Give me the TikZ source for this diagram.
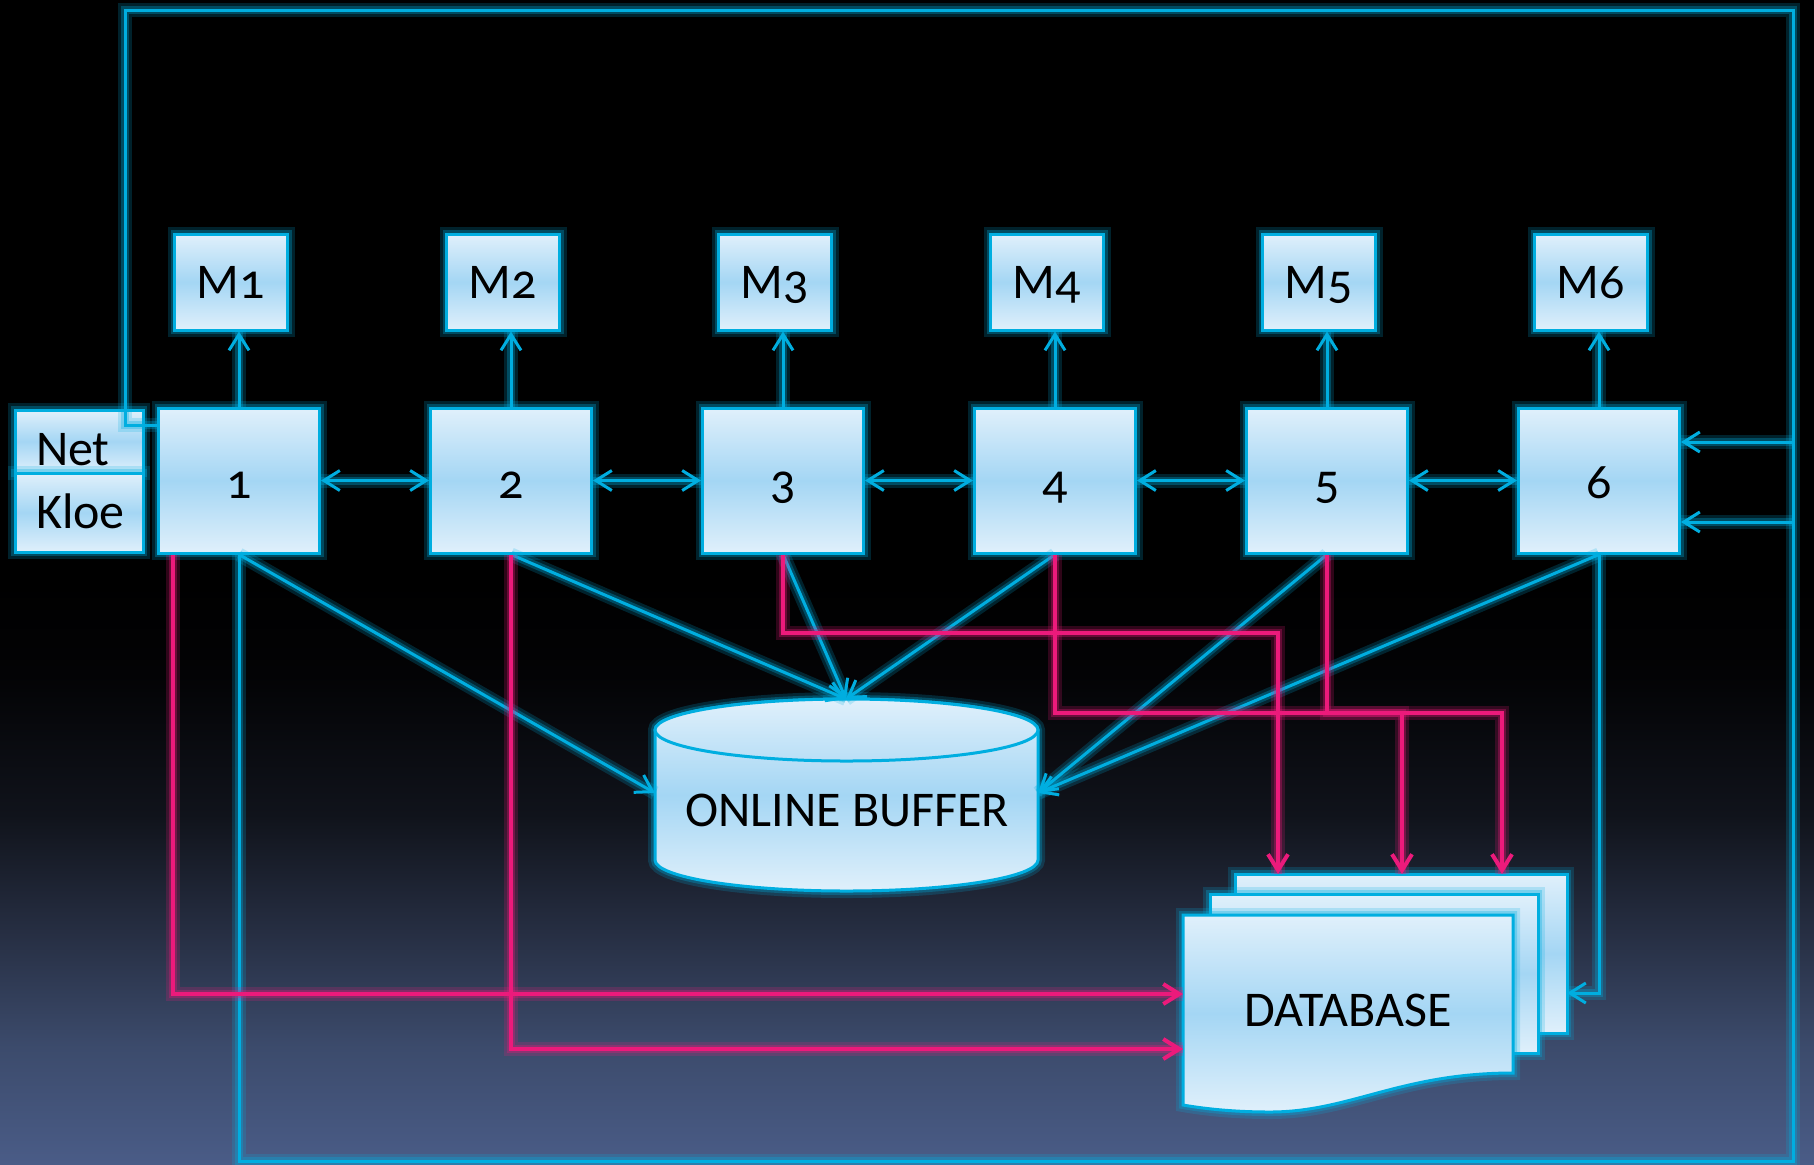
\documentclass[tikz,border=0pt]{standalone}
\usepackage{fontspec}
\setmainfont{Carlito}[Numbers=OldStyle]
\usetikzlibrary{arrows.meta,calc}

\definecolor{linec}{RGB}{0,174,224}
\definecolor{pinkc}{RGB}{236,26,123}
\definecolor{boxtop}{RGB}{224,240,251}
\definecolor{boxmid}{RGB}{164,214,244}
\definecolor{bga}{RGB}{74,92,135}
\definecolor{bgb}{RGB}{60,75,108}
\definecolor{bgc}{RGB}{38,46,66}
\definecolor{bgd}{RGB}{16,19,27}
\definecolor{bge}{RGB}{3,3,5}

% backdrop: black upper half fading to slate blue at the bottom
\pgfdeclareverticalshading{backdrop}{100bp}{%
  color(0bp)=(bga); color(25bp)=(bga); color(30bp)=(bgb); color(35bp)=(bgc);
  color(40bp)=(bgd); color(46bp)=(bge); color(50bp)=(black); color(100bp)=(black)}

% text set on a baseline lowered by #1 below the node centre
\newcommand{\lowered}[2]{\raisebox{-#1}[0pt][0pt]{#2}}

\begin{document}
\begin{tikzpicture}[x=0.5pt,y=-0.5pt,
  font=\fontsize{25}{29}\selectfont,
  glow/.style={preaction={draw=linec,line width=7pt,opacity=0.2,-},
               preaction={draw=linec,line width=4pt,opacity=0.3,-}},
  pglow/.style={preaction={draw=pinkc,line width=7pt,opacity=0.2,-},
                preaction={draw=pinkc,line width=4pt,opacity=0.3,-}},
  box/.style={rectangle, draw=linec, line width=1.5pt, glow,
              top color=boxtop, bottom color=boxtop, middle color=boxmid,
              inner sep=0pt, text=black},
  stepbox/.style={box, minimum width=80.5pt, minimum height=72.5pt},
  mbox/.style={box, minimum width=56.5pt, minimum height=48pt},
  sidebox/.style={box, minimum width=64pt, text width=43pt, inner xsep=10.5pt, align=left},
  sheet/.style={draw=linec, line width=1.5pt, glow,
                top color=boxtop, bottom color=boxtop, middle color=boxmid},
  cyanline/.style={draw=linec, line width=1.5pt, glow},
  pinkline/.style={draw=pinkc, line width=2pt, pglow},
  tip/.style={-{Straight Barb[length=8pt,width=10pt]}},
  dtip/.style={{Straight Barb[length=8pt,width=10pt]}-{Straight Barb[length=8pt,width=10pt]}}
]
\useasboundingbox (0,0) rectangle (1814,1164);
\shade[shading=backdrop] (0,0) rectangle (1814,1164);

% processing stages and their monitors
\foreach \i in {1,...,6}{
  \node[stepbox] (n\i) at ({239+272*(\i-1)},480.5) {\lowered{8.75pt}{\i}};
  \node[mbox] (m\i) at ({231+272*(\i-1)},282) {\lowered{8pt}{M\i}};
}
\node[sidebox, minimum height=31.5pt] (net) at (79,441.5) {\lowered{11.75pt}{Net}};
\node[sidebox, minimum height=39.5pt] (kloe) at (79,512.5) {\lowered{7.75pt}{Kloe}};

% online buffer cylinder
\path[sheet] (655,730) -- (655,860)
  arc[start angle=180, end angle=0, x radius=191.5, y radius=31]
  -- (1038,730)
  arc[start angle=0, end angle=-180, x radius=191.5, y radius=31] -- cycle;
\path[draw=linec, line width=1.5pt, top color=boxtop, bottom color=boxmid!65!boxtop]
  (846.5,730) ellipse [x radius=191.5, y radius=31];
\node[anchor=base] (buf) at (847,826) {ONLINE BUFFER};
\coordinate (buftop) at (846,699);
\coordinate (bufL) at (655,793);
\coordinate (bufR) at (1038,793);

% database: three stacked sheets
\path[sheet] (1235,874) rectangle (1567,1033);
\path[sheet] (1210,894) rectangle (1538,1053);
\path[sheet] (1183,915) -- (1513,915) -- (1513,1073)
  .. controls (1400,1073) and (1350,1112) .. (1270,1112)
  .. controls (1230,1112) and (1200,1108) .. (1183,1105) -- cycle;
\node[anchor=base] (db) at (1348,1026) {DATABASE};
\coordinate (dbL1) at (1183,994);
\coordinate (dbL2) at (1183,1049);
\coordinate (dbT1) at (1278,874);
\coordinate (dbT2) at (1402,874);
\coordinate (dbT3) at (1502,874);
\coordinate (dbR) at (1567,993);

% feedback loop round the whole chain
\coordinate (loopA) at (125,425);
\coordinate (loopB) at (125,10);
\coordinate (loopC) at (1793,10);
\coordinate (loopD) at (1793,1161);
\coordinate (loopE) at (239,1161);
\draw[cyanline] (n1.west |- loopA) -- (loopA) -- (loopB) -- (loopC)
  -- (loopD) -- (loopE) -- (n1.south);
\coordinate (r1) at (1793,442);
\coordinate (r2) at (1793,522);
\draw[cyanline,tip] (r1) -- (r1 -| n6.east);
\draw[cyanline,tip] (r2) -- (r2 -| n6.east);

% stage to monitor, stage to stage
\foreach \i in {1,...,6}{
  \draw[cyanline,tip] (n\i.north) -- (n\i.north |- m\i.south);
}
\foreach \i/\j in {1/2,2/3,3/4,4/5,5/6}{
  \draw[cyanline,dtip] (n\i.east) -- (n\j.west);
}

% stages into the online buffer
\draw[cyanline,tip] (n1.south) -- (bufL);
\draw[cyanline,tip] (n2.south) -- (buftop);
\draw[cyanline,tip] (n3.south) -- (buftop);
\draw[cyanline,tip] (n4.south) -- (buftop);
\draw[cyanline,tip] (n5.south) -- (bufR);
\draw[cyanline,tip] (n6.south) -- (bufR);
\draw[cyanline,tip] (n6.south) |- (dbR);

% stages into the database
\coordinate (k3) at (1278,633);
\coordinate (k4) at (1402,713);
\coordinate (k5) at (1502,713);
\draw[pinkline,tip] ($(n1.south)+(-66,0)$) |- (dbL1);
\draw[pinkline,tip] (n2.south) |- (dbL2);
\draw[pinkline,tip] (n3.south) |- (k3) -- (dbT1);
\draw[pinkline,tip] (n4.south) |- (k4) -- (dbT2);
\draw[pinkline,tip] (n5.south) |- (k5) -- (dbT3);
\end{tikzpicture}
\end{document}
